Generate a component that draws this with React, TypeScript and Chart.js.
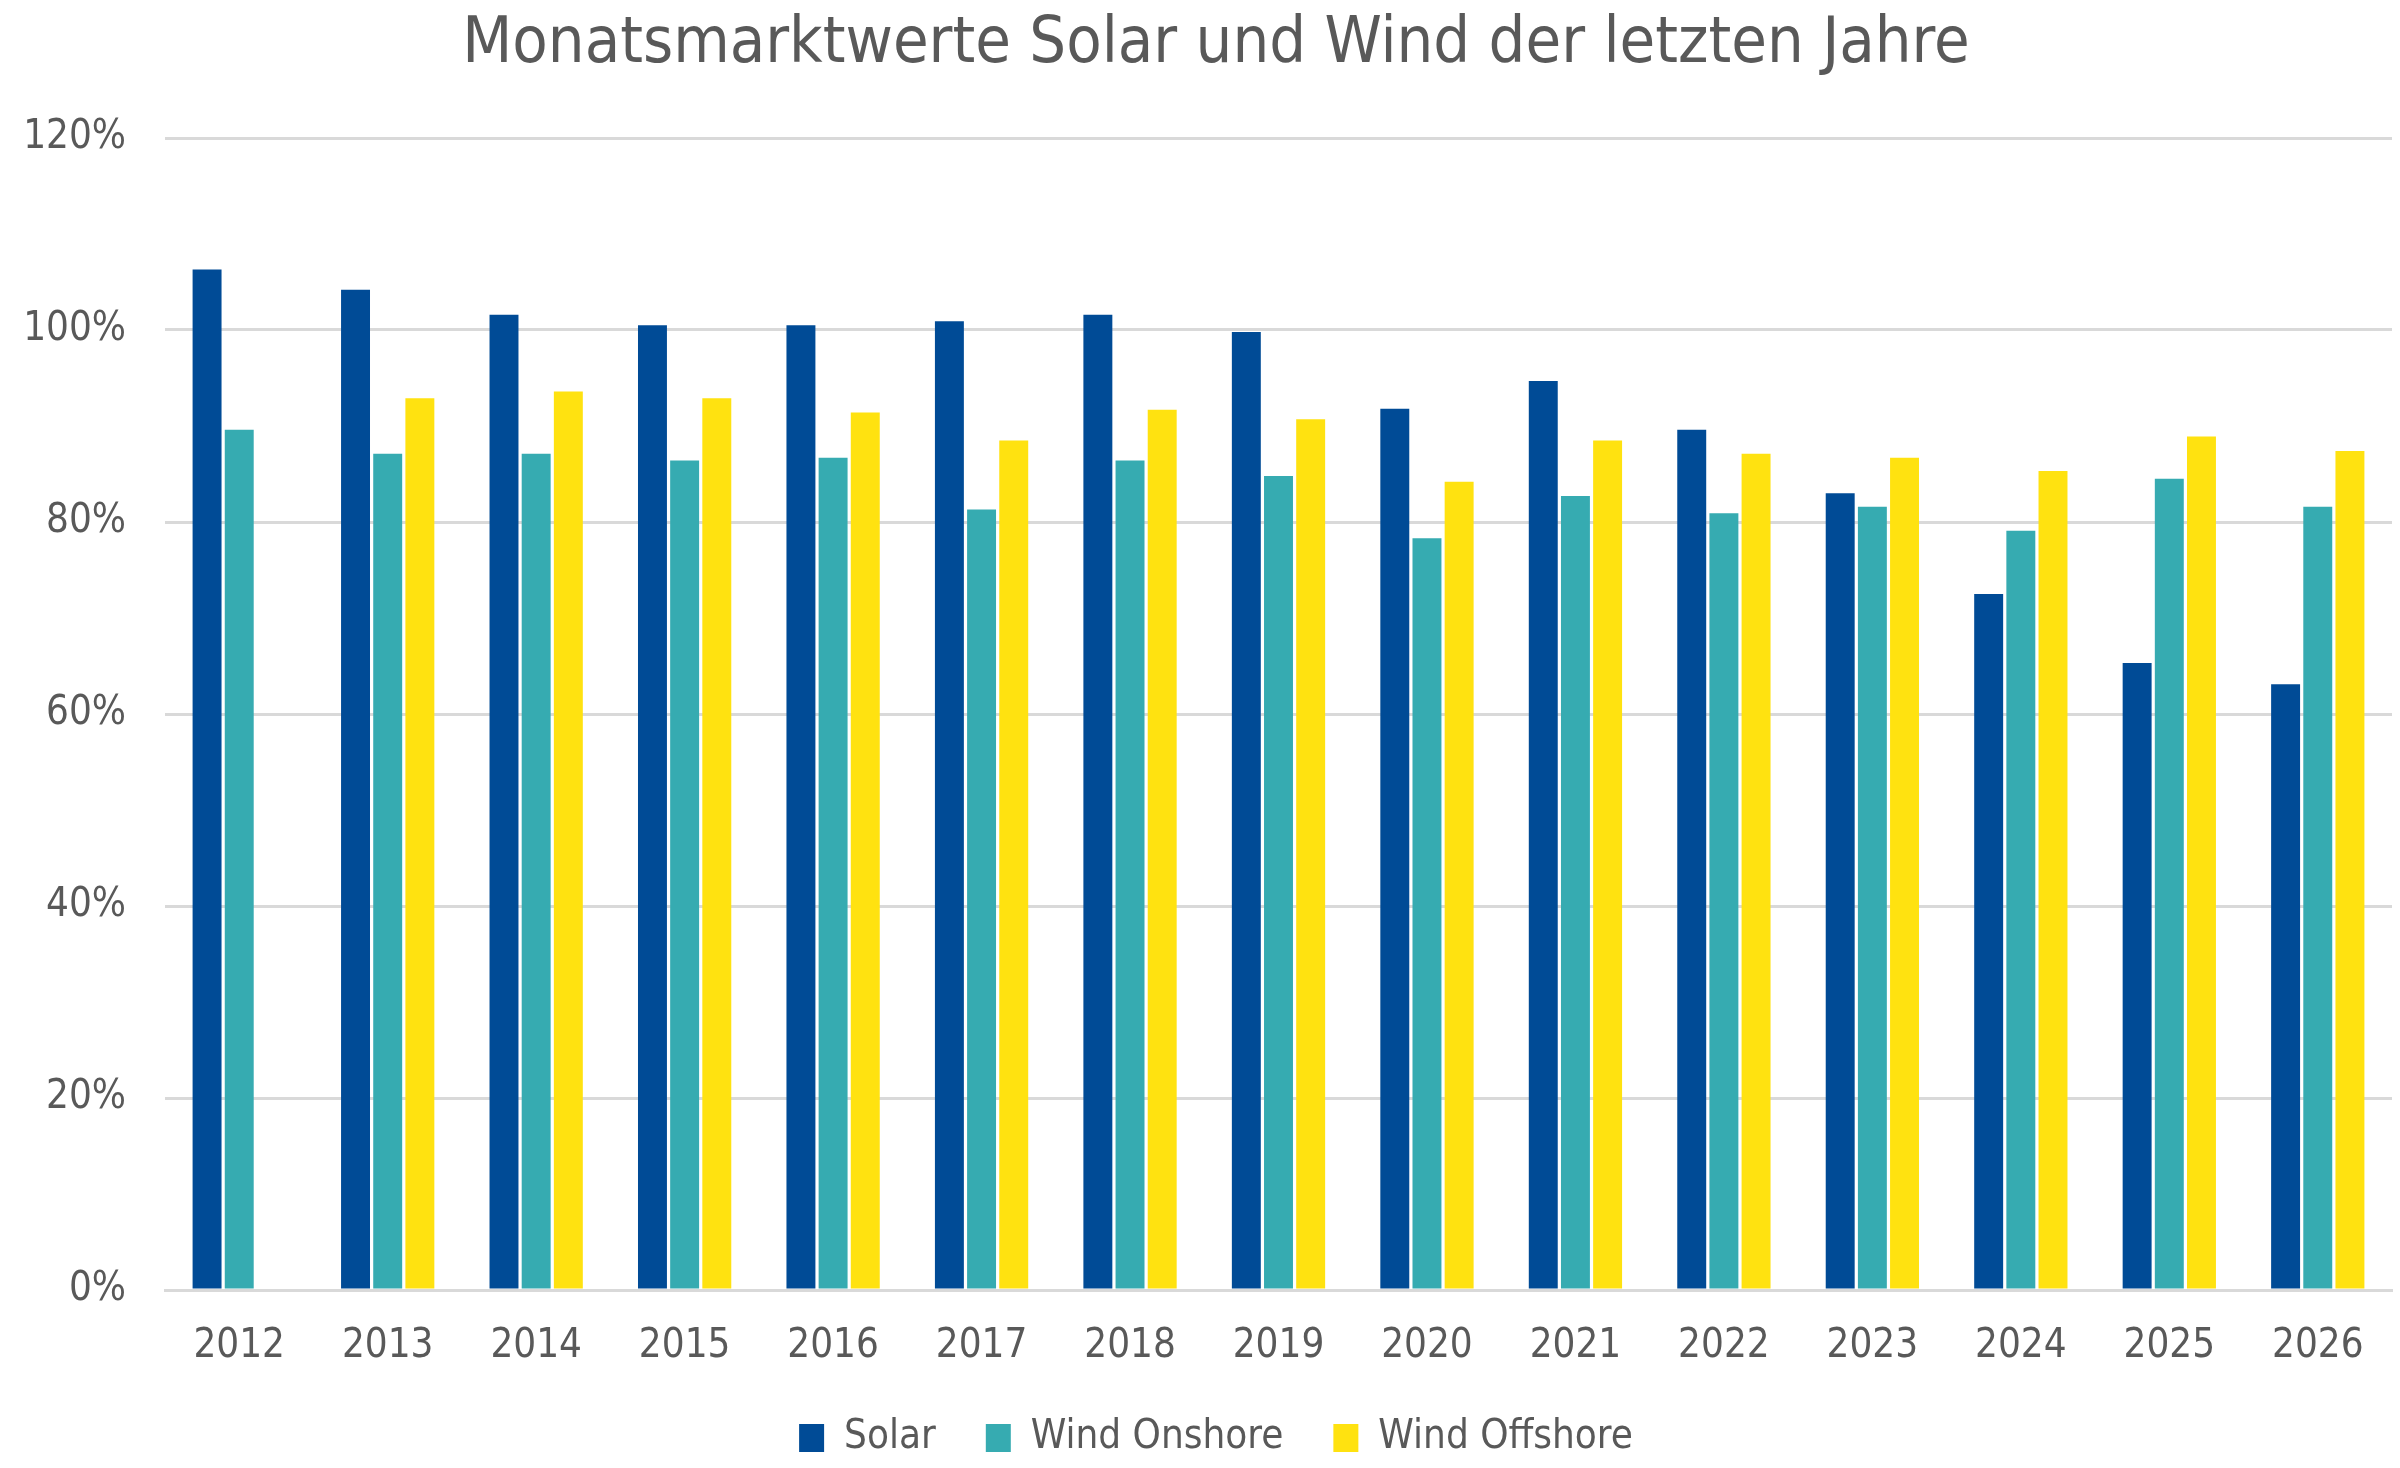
import React, { useEffect, useRef } from 'react'
import { Chart, registerables } from 'chart.js'

Chart.register(...registerables)

const years = ['2012', '2013', '2014', '2015', '2016', '2017', '2018', '2019', '2020', '2021', '2022', '2023', '2024', '2025', '2026']

// values in percent
const solar = [106.3, 104.2, 101.6, 100.5, 100.5, 100.9, 101.6, 99.8, 91.8, 94.7, 89.6, 83.0, 72.5, 65.3, 63.1]
const windOnshore = [89.6, 87.1, 87.1, 86.4, 86.7, 81.3, 86.4, 84.8, 78.3, 82.7, 80.9, 81.6, 79.1, 84.5, 81.6]
const windOffshore = [null, 92.9, 93.6, 92.9, 91.4, 88.5, 91.7, 90.7, 84.2, 88.5, 87.1, 86.7, 85.3, 88.9, 87.4]

const yTicks = [0, 20, 40, 60, 80, 100, 120]

const FONT = '"DejaVu Sans Condensed", "DejaVu Sans", sans-serif'
const TEXT = '#595959'
const GRID = '#D9D9D9'

const App = () => {
    const canvasRef = useRef<HTMLCanvasElement>(null)

    useEffect(() => {
        if (canvasRef.current == null) return
        const chart = new Chart(canvasRef.current, {
            type: 'bar',
            data: {
                labels: years,
                datasets: [
                    { label: 'Solar', data: solar, backgroundColor: '#004B96' },
                    { label: 'Wind Onshore', data: windOnshore, backgroundColor: '#36ABB1' },
                    { label: 'Wind Offshore', data: windOffshore, backgroundColor: '#FFE210' },
                ],
            },
            options: {
                animation: false,
                responsive: true,
                maintainAspectRatio: false,
                devicePixelRatio: 1,
                datasets: {
                    bar: { categoryPercentage: 0.65, barPercentage: 0.9 },
                },
                // extra left padding keeps title and legend centred like the original
                layout: { padding: { left: 40, right: 8, top: 0, bottom: 0 } },
                scales: {
                    x: {
                        grid: { display: false, drawTicks: false },
                        border: { display: true, color: GRID, width: 3 },
                        ticks: { color: TEXT, font: { family: FONT, size: 40 }, padding: 33, maxRotation: 0 },
                        afterFit: (scale: any) => { scale.height = 78 },
                    },
                    y: {
                        min: 0,
                        max: 120,
                        afterBuildTicks: (scale: any) => { scale.ticks = yTicks.map((v) => ({ value: v })) },
                        grid: { color: GRID, lineWidth: 3, drawTicks: false },
                        border: { display: false },
                        ticks: {
                            color: TEXT,
                            font: { family: FONT, size: 40 },
                            padding: 39,
                            callback: (v: any) => v + '%',
                        },
                        afterFit: (scale: any) => {
                            scale.width = 125
                            // labels reach into the padding, so don't clip them to the axis box
                            scale._computeLabelArea = () => undefined
                        },
                    },
                },
                plugins: {
                    title: {
                        display: true,
                        text: 'Monatsmarktwerte Solar und Wind der letzten Jahre',
                        color: TEXT,
                        font: { family: FONT, size: 64.5, weight: 'normal' },
                        padding: { top: 7, bottom: 53.6 },
                    },
                    legend: {
                        position: 'bottom',
                        labels: {
                            color: TEXT,
                            font: { family: FONT, size: 40 },
                            boxWidth: 25,
                            boxHeight: 28,
                            padding: 50,
                        },
                    },
                    tooltip: { enabled: false },
                },
            },
        })
        return () => {
            chart.destroy()
        }
    }, [])

    return (
        <div style={{ position: 'fixed', left: 0, top: 0, width: 2400, height: 1468, background: '#fff' }}>
            <canvas ref={canvasRef}></canvas>
        </div>
    )
}

export default App
